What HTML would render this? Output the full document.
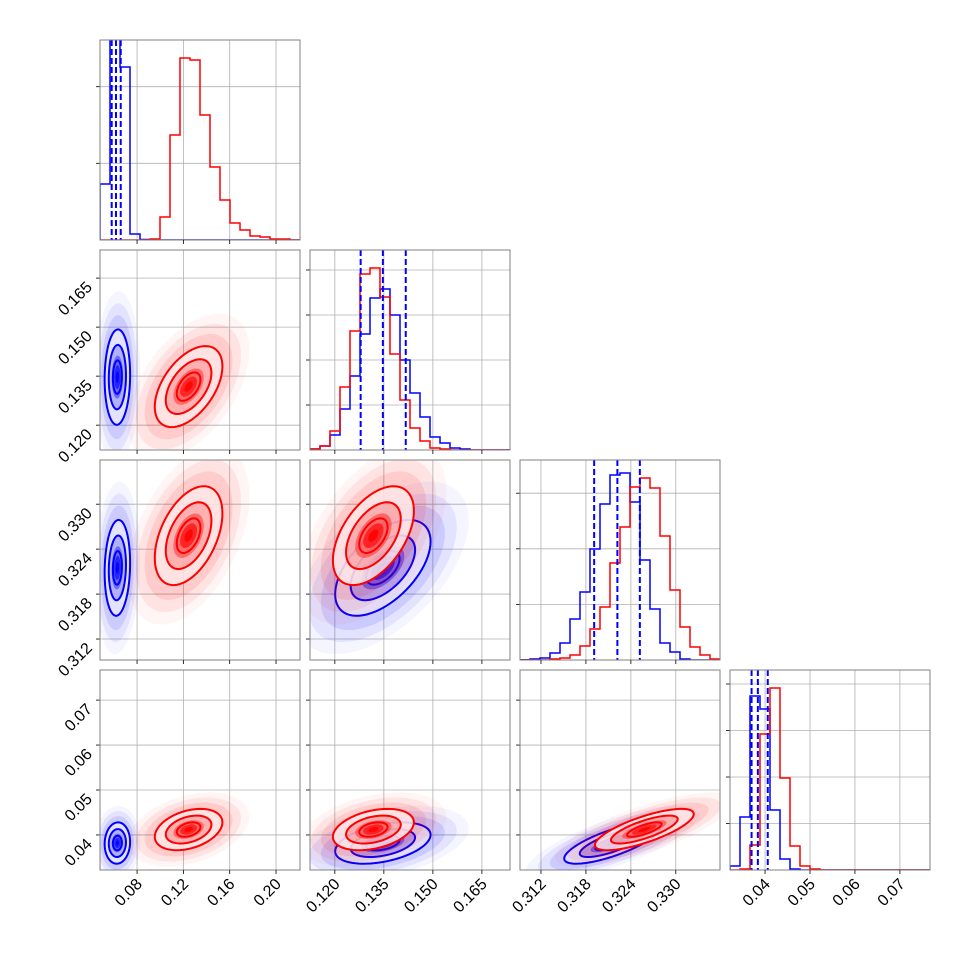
<!DOCTYPE html>
<html><head><meta charset="utf-8"><style>
html,body{margin:0;padding:0;background:#fff;}
svg text{font-family:"Liberation Sans",sans-serif;font-size:16px;fill:#000;}
</style></head><body>
<svg id="chart" width="970" height="970" viewBox="0 0 970 970" xmlns="http://www.w3.org/2000/svg"></svg>
<script>
// ---- data ----
const paramRanges = [[0.048,0.2207],[0.1124,0.1736],[0.3092,0.3359],[0.0322,0.0767]];
const tickVals = [[0.08,0.12,0.16,0.20],[0.120,0.135,0.150,0.165],[0.312,0.318,0.324,0.330],[0.04,0.05,0.06,0.07]];
const tickLabels = [["0.08","0.12","0.16","0.20"],["0.120","0.135","0.150","0.165"],["0.312","0.318","0.324","0.330"],["0.04","0.05","0.06","0.07"]];
// histogram counts (20 bins over each range)
const histBlue0 = [56,400,173,6,0.5,0,0,0,0,0,0,0,0,0,0,0,0,0,0,0];
const histRed0  = [0,0,0,0,0,1,23,105,182,180,125,73,40,17,10,4,3,1,1,0];
const histBlue1 = [1,4,15,41,74,116,152,161,135,90,57,33,13,7,2,1,0,0,0,0];
const histRed1  = [1,4,19,63,119,176,182,153,96,50,22,9,2,1,0,0,0,0,0,0];
const histBlue2 = [0.3,1,2,7,17,41,68,111,156,185,187,158,100,51,17,8,1,0,0,0];
const histRed2  = [0,0,0,1,2,5,14,31,53,97,133,173,182,172,124,70,33,13,5,1];
const histBlue3 = [4,53,174,161,60,11,1,0,0,0,0,0,0,0,0,0,0,0,0,0];
const histRed3  = [0,1,25,136,182,92,24,4,1,0,0,0,0,0,0,0,0,0,0,0];
const histYTicks = [[76.7,153.3],[45,90,135,180],[55.6,111.2,166.8],[46.5,93,139.5,186]];
const quantBlue = [[0.0581,0.0618,0.0659],[0.1279,0.1347,0.1417],[0.3191,0.3222,0.3252],[0.0370,0.0384,0.0406]];
const muBlue = [0.063,0.1347,0.3215,0.0382];
const sdBlue = [0.0055,0.0073,0.0032,0.0023];
const muRed  = [0.1245,0.1318,0.3258,0.0412];
const sdRed  = [0.0146,0.0062,0.0033,0.0023];
// correlations for pairs [row][col]
const rhoBlue = {"1,0":0.05,"2,0":0.1,"2,1":0.55,"3,0":0.05,"3,1":0.4,"3,2":0.75};
const rhoRed  = {"1,0":0.5,"2,0":0.45,"2,1":0.5,"3,0":0.35,"3,1":0.35,"3,2":0.75};

const NS="http://www.w3.org/2000/svg";
const svg=document.getElementById('chart');
const P0=100, PS=200, GAP=10, PT=40;
function el(tag,attrs,parent){const e=document.createElementNS(NS,tag);for(const k in attrs)e.setAttribute(k,attrs[k]);(parent||svg).appendChild(e);return e;}
function px(i,v,col){const r=paramRanges[i];return P0+col*(PS+GAP)+(v-r[0])/(r[1]-r[0])*PS;}
function py(i,v,row){const r=paramRanges[i];return PT+row*(PS+GAP)+PS-(v-r[0])/(r[1]-r[0])*PS;}
const defs=el('defs',{});
const hists=[[histBlue0,histRed0],[histBlue1,histRed1],[histBlue2,histRed2],[histBlue3,histRed3]];

function ellipsePath(mx,my,sx,sy,rho,n){
  let d='';const s=Math.sqrt(1-rho*rho);
  for(let k=0;k<=72;k++){const t=k/72*2*Math.PI;
    const x=mx+n*sx*Math.cos(t), y=my-n*sy*(rho*Math.cos(t)+s*Math.sin(t));
    d+=(k?'L':'M')+x.toFixed(2)+','+y.toFixed(2);}
  return d+'Z';
}

for(let row=0;row<4;row++){
  for(let col=0;col<=row;col++){
    const x0=P0+col*(PS+GAP), y0=PT+row*(PS+GAP);
    const g=el('g',{});
    
    
    const cid='clip'+row+col;
    const cp=el('clipPath',{id:cid},defs);el('rect',{x:x0,y:y0,width:PS,height:PS},cp);
    tickVals[col].forEach(v=>{const x=px(col,v,col);
      const gl=el('line',{x1:x,x2:x,y1:y0,y2:y0+PS,stroke:'#b0b0b0','stroke-width':0.8},g);
      });
    if(row===col){
      histYTicks[row].forEach(h=>{const y=y0+PS-h;
        el('line',{x1:x0,x2:x0+PS,y1:y,y2:y,stroke:'#b0b0b0','stroke-width':0.8},g);
        el('line',{x1:x0-4,x2:x0,y1:y,y2:y,stroke:'#000','stroke-width':0.8},g);});
      const cg=el('g',{'clip-path':'url(#'+cid+')'},g);
      hists[row].forEach((arr,si)=>{
        let d='M'+x0+','+(y0+PS);
        arr.forEach((c,b)=>{const xa=x0+b*PS/20, xb=x0+(b+1)*PS/20, y=y0+PS-c;d+='L'+xa+','+y+'L'+xb+','+y;});
        d+='L'+(x0+PS)+','+(y0+PS);
        const p=el('path',{d:d,fill:'none',stroke:si?'#ff0000':'#0000ff','stroke-width':1.5},cg);
        
        
      });
      quantBlue[row].forEach(q=>{const x=px(row,q,col);
        const l=el('line',{x1:x,x2:x,y1:y0,y2:y0+PS,stroke:'#0000ff','stroke-width':2,'stroke-dasharray':'6,3'},cg);
        });
    } else {
      tickVals[row].forEach(v=>{const y=py(row,v,row);
        el('line',{x1:x0,x2:x0+PS,y1:y,y2:y,stroke:'#b0b0b0','stroke-width':0.8},g);
        el('line',{x1:x0-4,x2:x0,y1:y,y2:y,stroke:'#000','stroke-width':0.8},g);});
      const cg=el('g',{'clip-path':'url(#'+cid+')'},g);
      const key=row+','+col;
      [[muBlue,sdBlue,rhoBlue,'0,0,255','#0000ff'],[muRed,sdRed,rhoRed,'255,0,0','#ff0000']].forEach(([mu,sd,rh,rgb,col2],si)=>{
        const mx=px(col,mu[col],col), my=py(row,mu[row],row);
        const r=paramRanges;
        const sx=sd[col]/(r[col][1]-r[col][0])*PS, sy=sd[row]/(r[row][1]-r[row][0])*PS;
        const rho=rh[key];
        const sg=el('g',{},cg);
        
        
        [[3.6,0.04],[3.1,0.07],[2.6,0.1]].forEach(([n,a])=>el('path',{d:ellipsePath(mx,my,sx,sy,rho,n),fill:'rgba('+rgb+','+a+')'},sg));
        el('path',{d:ellipsePath(mx,my,sx,sy,rho,2),fill:'rgba(255,255,255,0.85)'},sg);
        [[2,0.08],[1.4,0.22],[0.9,0.4],[0.5,0.65],[0.25,0.85]].forEach(([n,a])=>el('path',{d:ellipsePath(mx,my,sx,sy,rho,n),fill:'rgba('+rgb+','+a+')'},sg));
        [2,1.35,0.7].forEach(n=>{const c=el('path',{d:ellipsePath(mx,my,sx,sy,rho,n),fill:'none',stroke:col2,'stroke-width':2},sg);
          });
      });
    }
    el('rect',{x:x0,y:y0,width:PS,height:PS,fill:'none',stroke:'#808080','stroke-width':1},g);
    tickVals[col].forEach((v,k)=>{const x=px(col,v,col);
      el('line',{x1:x,x2:x,y1:y0+PS,y2:y0+PS+4,stroke:'#000','stroke-width':0.8},g);
      if(row===3){const ax=x+6, ay=y0+PS+15;
        const t=el('text',{x:ax,y:ay,'text-anchor':'end',transform:'rotate(-45 '+ax+' '+ay+')'},g);
        t.textContent=tickLabels[col][k];
        }
    });
    if(col===0&&row>0){
      tickVals[row].forEach((v,k)=>{const y=py(row,v,row);const ax=x0-7, ay=y+10;
        const t=el('text',{x:ax,y:ay,'text-anchor':'end',transform:'rotate(-45 '+ax+' '+ay+')'},g);
        t.textContent=tickLabels[row][k];
        });
    }
  }
}
</script>
</body></html>
